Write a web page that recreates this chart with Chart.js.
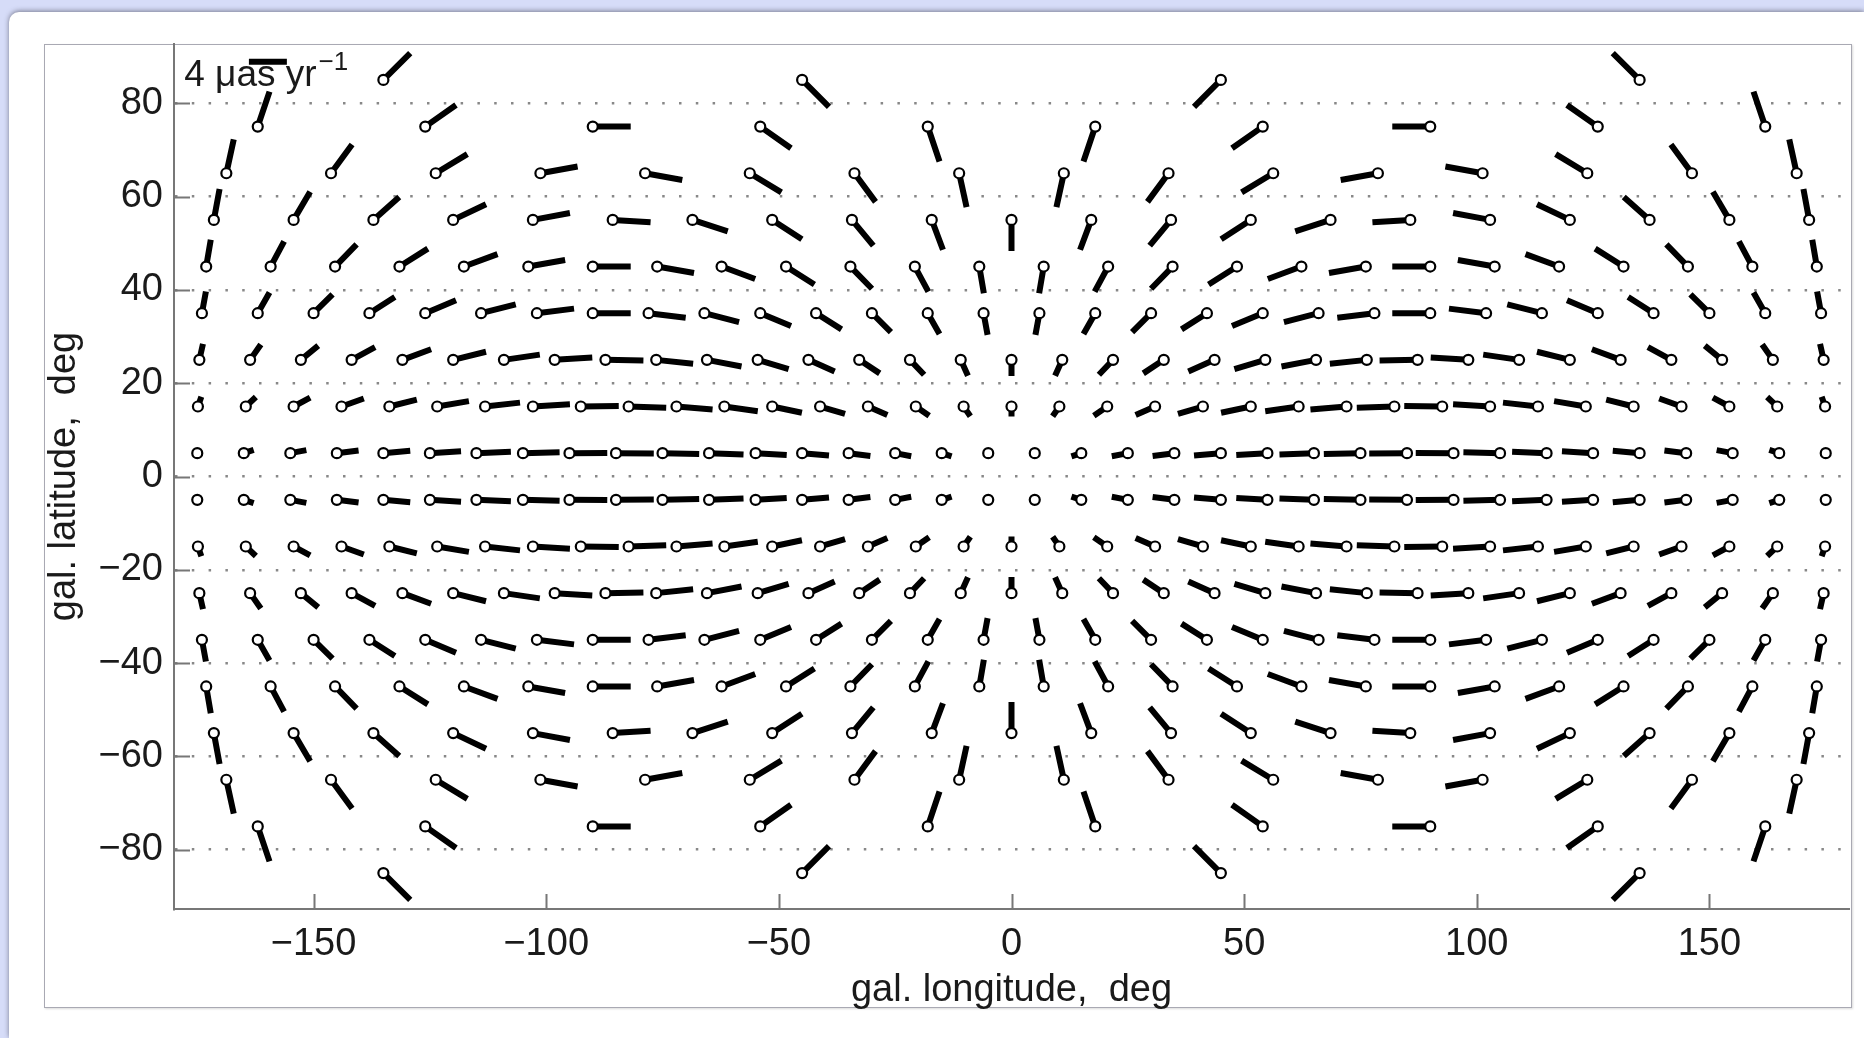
<!DOCTYPE html>
<html>
<head>
<meta charset="utf-8">
<script src="https://cdn.jsdelivr.net/npm/chart.js@4.4.1/dist/chart.umd.min.js"></script>
<style>
  html, body { margin: 0; padding: 0; width: 1864px; height: 1038px; overflow: hidden; background: #d6dcf8; }
  #panel { position: absolute; left: 9px; top: 12px; width: 1855px; height: 1026px; background: #fff;
           border-top-left-radius: 10px; box-shadow: 0 -1px 5px rgba(60, 60, 75, 0.6); }
  #frame { position: absolute; left: 44px; top: 44px; width: 1806px; height: 962px; background: #fff;
           border: 1.5px solid #a9a9b3; box-shadow: 1px 1px 2px rgba(0, 0, 0, 0.15); }
  #c { position: absolute; left: 0; top: 0; }
</style>
</head>
<body>
<div id="panel"></div>
<div id="frame"></div>
<canvas id="c" width="1864" height="1038"></canvas>
<script>
// Proper-motion field on a grid of galactic (l, b) cells, values in μas/yr.
// Each latitude band: longitudes of the cell centres, μl·cos b, and μb (north / south band).

const X_TICKS = [-150, -100, -50, 0, 50, 100, 150];
const Y_TICKS = [-80, -60, -40, -20, 0, 20, 40, 60, 80];
const KEY_VALUE = 4; // μas/yr, reference arrow

const LON_85 = [-135, -45, 45, 135];
const MUL_85 = [2.83, 2.83, -2.83, -2.83];
const MUB_N85 = [2.82, -2.82, -2.82, 2.82];
const MUB_S85 = [-2.82, 2.82, 2.82, -2.82];

const LON_75 = [-162, -126, -90, -54, -18, 18, 54, 90, 126, 162];
const MUL_75 = [1.24, 3.24, 4.00, 3.24, 1.24, -1.24, -3.24, -4.00, -3.24, -1.24];
const MUB_N75 = [3.67, 2.27, 0, -2.27, -3.67, -3.67, -2.27, 0, 2.27, 3.67];
const MUB_S75 = [-3.67, -2.27, 0, 2.27, 3.67, 3.67, 2.27, 0, -2.27, -3.67];

const LON_65 = [-168.75, -146.25, -123.75, -101.25, -78.75, -56.25, -33.75, -11.25,
                11.25, 33.75, 56.25, 78.75, 101.25, 123.75, 146.25, 168.75];
const MUL_65 = [0.78, 2.22, 3.33, 3.92, 3.92, 3.33, 2.22, 0.78,
                -0.78, -2.22, -3.33, -3.92, -3.92, -3.33, -2.22, -0.78];
const MUB_N65 = [3.56, 3.01, 2.01, 0.71, -0.71, -2.01, -3.01, -3.56,
                 -3.56, -3.01, -2.01, -0.71, 0.71, 2.01, 3.01, 3.56];
const MUB_S65 = [-3.56, -3.01, -2.01, -0.71, 0.71, 2.01, 3.01, 3.56,
                 3.56, 3.01, 2.01, 0.71, -0.71, -2.01, -3.01, -3.56];

const LON_55 = [-171.43, -154.29, -137.14, -120, -102.86, -85.71, -68.57, -51.43, -34.29, -17.14, 0,
                17.14, 34.29, 51.43, 68.57, 85.71, 102.86, 120, 137.14, 154.29, 171.43];
const MUL_55 = [0.60, 1.74, 2.72, 3.46, 3.90, 3.99, 3.72, 3.13, 2.25, 1.18, 0,
                -1.18, -2.25, -3.13, -3.72, -3.99, -3.90, -3.46, -2.72, -1.74, -0.60];
const MUB_N55 = [3.24, 2.95, 2.40, 1.64, 0.73, -0.25, -1.20, -2.04, -2.71, -3.13, -3.28,
                 -3.13, -2.71, -2.04, -1.20, -0.25, 0.73, 1.64, 2.40, 2.95, 3.24];
const MUB_S55 = [-3.24, -2.95, -2.40, -1.64, -0.73, 0.25, 1.20, 2.04, 2.71, 3.13, 3.28,
                 3.13, 2.71, 2.04, 1.20, 0.25, -0.73, -1.64, -2.40, -2.95, -3.24];

const LON_45 = [-173.08, -159.23, -145.38, -131.54, -117.69, -103.85, -90, -76.15, -62.31, -48.46, -34.62, -20.77, -6.92,
                6.92, 20.77, 34.62, 48.46, 62.31, 76.15, 90, 103.85, 117.69, 131.54, 145.38, 159.23, 173.08];
const MUL_45 = [0.48, 1.42, 2.27, 2.99, 3.54, 3.88, 4.00, 3.88, 3.54, 2.99, 2.27, 1.42, 0.48,
                -0.48, -1.42, -2.27, -2.99, -3.54, -3.88, -4.00, -3.88, -3.54, -2.99, -2.27, -1.42, -0.48];
const MUB_N45 = [2.81, 2.64, 2.33, 1.88, 1.31, 0.68, 0, -0.68, -1.31, -1.88, -2.33, -2.64, -2.81,
                 -2.81, -2.64, -2.33, -1.88, -1.31, -0.68, 0, 0.68, 1.31, 1.88, 2.33, 2.64, 2.81];
const MUB_S45 = [-2.81, -2.64, -2.33, -1.88, -1.31, -0.68, 0, 0.68, 1.31, 1.88, 2.33, 2.64, 2.81,
                 2.81, 2.64, 2.33, 1.88, 1.31, 0.68, 0, -0.68, -1.31, -1.88, -2.33, -2.64, -2.81];

const LON_35 = [-174, -162, -150, -138, -126, -114, -102, -90, -78, -66, -54, -42, -30, -18, -6,
                6, 18, 30, 42, 54, 66, 78, 90, 102, 114, 126, 138, 150, 162, 174];
const MUL_35 = [0.42, 1.24, 2.00, 2.68, 3.24, 3.65, 3.91, 4.00, 3.91, 3.65, 3.24, 2.68, 2.00, 1.24, 0.42,
                -0.42, -1.24, -2.00, -2.68, -3.24, -3.65, -3.91, -4.00, -3.91, -3.65, -3.24, -2.68, -2.00, -1.24, -0.42];
const MUB_N35 = [2.28, 2.18, 1.99, 1.70, 1.35, 0.93, 0.48, 0, -0.48, -0.93, -1.35, -1.70, -1.99, -2.18, -2.28,
                 -2.28, -2.18, -1.99, -1.70, -1.35, -0.93, -0.48, 0, 0.48, 0.93, 1.35, 1.70, 1.99, 2.18, 2.28];
const MUB_S35 = [-2.28, -2.18, -1.99, -1.70, -1.35, -0.93, -0.48, 0, 0.48, 0.93, 1.35, 1.70, 1.99, 2.18, 2.28,
                 2.28, 2.18, 1.99, 1.70, 1.35, 0.93, 0.48, 0, -0.48, -0.93, -1.35, -1.70, -1.99, -2.18, -2.28];

const LON_25 = [-174.55, -163.64, -152.73, -141.82, -130.91, -120, -109.09, -98.18, -87.27, -76.36, -65.45,
                -54.55, -43.64, -32.73, -21.82, -10.91, 0, 10.91, 21.82, 32.73, 43.64, 54.55,
                65.45, 76.36, 87.27, 98.18, 109.09, 120, 130.91, 141.82, 152.73, 163.64, 174.55];
const MUL_25 = [0.38, 1.13, 1.83, 2.47, 3.02, 3.46, 3.78, 3.96, 4.00, 3.89, 3.64,
                3.26, 2.76, 2.16, 1.49, 0.76, 0, -0.76, -1.49, -2.16, -2.76, -3.26,
                -3.64, -3.89, -4.00, -3.96, -3.78, -3.46, -3.02, -2.47, -1.83, -1.13, -0.38];
const MUB_N25 = [1.68, 1.62, 1.50, 1.33, 1.11, 0.85, 0.55, 0.24, -0.08, -0.40, -0.70,
                 -0.98, -1.22, -1.42, -1.57, -1.66, -1.69, -1.66, -1.57, -1.42, -1.22, -0.98,
                 -0.70, -0.40, -0.08, 0.24, 0.55, 0.85, 1.11, 1.33, 1.50, 1.62, 1.68];
const MUB_S25 = [-1.68, -1.62, -1.50, -1.33, -1.11, -0.85, -0.55, -0.24, 0.08, 0.40, 0.70,
                 0.98, 1.22, 1.42, 1.57, 1.66, 1.69, 1.66, 1.57, 1.42, 1.22, 0.98,
                 0.70, 0.40, 0.08, -0.24, -0.55, -0.85, -1.11, -1.33, -1.50, -1.62, -1.68];

const LON_15 = [-174.86, -164.57, -154.29, -144, -133.71, -123.43, -113.14, -102.86, -92.57, -82.29, -72, -61.71,
                -51.43, -41.14, -30.86, -20.57, -10.29, 0, 10.29, 20.57, 30.86, 41.14, 51.43, 61.71,
                72, 82.29, 92.57, 102.86, 113.14, 123.43, 133.71, 144, 154.29, 164.57, 174.86];
const MUL_15 = [0.36, 1.06, 1.74, 2.35, 2.89, 3.34, 3.68, 3.90, 4.00, 3.96, 3.80, 3.52,
                3.13, 2.63, 2.05, 1.41, 0.71, 0, -0.71, -1.41, -2.05, -2.63, -3.13, -3.52,
                -3.80, -3.96, -4.00, -3.90, -3.68, -3.34, -2.89, -2.35, -1.74, -1.06, -0.36];
const MUB_N15 = [1.03, 1.00, 0.93, 0.84, 0.72, 0.57, 0.41, 0.23, 0.05, -0.14, -0.32, -0.49,
                 -0.65, -0.78, -0.89, -0.97, -1.02, -1.04, -1.02, -0.97, -0.89, -0.78, -0.65, -0.49,
                 -0.32, -0.14, 0.05, 0.23, 0.41, 0.57, 0.72, 0.84, 0.93, 1.00, 1.03];
const MUB_S15 = [-1.03, -1.00, -0.93, -0.84, -0.72, -0.57, -0.41, -0.23, -0.05, 0.14, 0.32, 0.49,
                 0.65, 0.78, 0.89, 0.97, 1.02, 1.04, 1.02, 0.97, 0.89, 0.78, 0.65, 0.49,
                 0.32, 0.14, -0.05, -0.23, -0.41, -0.57, -0.72, -0.84, -0.93, -1.00, -1.03];

const LON_05 = [-175, -165, -155, -145, -135, -125, -115, -105, -95, -85, -75, -65, -55, -45, -35, -25, -15, -5,
                5, 15, 25, 35, 45, 55, 65, 75, 85, 95, 105, 115, 125, 135, 145, 155, 165, 175];
const MUL_05 = [0.35, 1.04, 1.69, 2.29, 2.83, 3.28, 3.63, 3.86, 3.98, 3.98, 3.86, 3.63, 3.28, 2.83, 2.29, 1.69, 1.04, 0.35,
                -0.35, -1.04, -1.69, -2.29, -2.83, -3.28, -3.63, -3.86, -3.98, -3.98, -3.86, -3.63, -3.28, -2.83, -2.29, -1.69, -1.04, -0.35];
const MUB_N05 = [0.35, 0.34, 0.32, 0.29, 0.25, 0.20, 0.15, 0.09, 0.03, -0.03, -0.09, -0.15, -0.20, -0.25, -0.29, -0.32, -0.34, -0.35,
                 -0.35, -0.34, -0.32, -0.29, -0.25, -0.20, -0.15, -0.09, -0.03, 0.03, 0.09, 0.15, 0.20, 0.25, 0.29, 0.32, 0.34, 0.35];
const MUB_S05 = [-0.35, -0.34, -0.32, -0.29, -0.25, -0.20, -0.15, -0.09, -0.03, 0.03, 0.09, 0.15, 0.20, 0.25, 0.29, 0.32, 0.34, 0.35,
                 0.35, 0.34, 0.32, 0.29, 0.25, 0.20, 0.15, 0.09, 0.03, -0.03, -0.09, -0.15, -0.20, -0.25, -0.29, -0.32, -0.34, -0.35];

// Latitude bands, north to south: [b, longitudes, μl·cos b, μb]
const BANDS = [
  [85, LON_85, MUL_85, MUB_N85], [75, LON_75, MUL_75, MUB_N75], [65, LON_65, MUL_65, MUB_N65],
  [55, LON_55, MUL_55, MUB_N55], [45, LON_45, MUL_45, MUB_N45], [35, LON_35, MUL_35, MUB_N35],
  [25, LON_25, MUL_25, MUB_N25], [15, LON_15, MUL_15, MUB_N15], [5, LON_05, MUL_05, MUB_N05],
  [-5, LON_05, MUL_05, MUB_S05], [-15, LON_15, MUL_15, MUB_S15], [-25, LON_25, MUL_25, MUB_S25],
  [-35, LON_35, MUL_35, MUB_S35], [-45, LON_45, MUL_45, MUB_S45], [-55, LON_55, MUL_55, MUB_S55],
  [-65, LON_65, MUL_65, MUB_S65], [-75, LON_75, MUL_75, MUB_S75], [-85, LON_85, MUL_85, MUB_S85]
];

// Arrow length on the map: degrees per μas/yr
const ARROW_SCALE = 2.04;

const anchors = [];
const shafts = [];
for (const [b, lons, mul, mub] of BANDS) {
  lons.forEach((l, i) => {
    anchors.push({ x: l, y: b });
    shafts.push({ x: l, y: b });
    shafts.push({ x: l + ARROW_SCALE * mul[i], y: b + ARROW_SCALE * mub[i] });
    shafts.push({ x: l, y: null });
  });
}

// Reference arrow in the upper-left corner
const KEY_L = -163.9, KEY_B = 88.9;
const keyBar = [{ x: KEY_L, y: KEY_B }, { x: KEY_L + ARROW_SCALE * KEY_VALUE, y: KEY_B }];

const FONT = '"Liberation Sans", Arial, Helvetica, sans-serif';
const INK = '#1a1a1a';
const AXIS = '#777777';
const fmt = v => (v < 0 ? '\u2212' + Math.abs(v) : String(v));

const decor = {
  id: 'decor',
  afterDraw(chart) {
    const { ctx, chartArea: a, scales: { x, y } } = chart;
    ctx.save();
    ctx.strokeStyle = AXIS;
    ctx.lineWidth = 2;
    ctx.beginPath();
    for (const v of Y_TICKS) {
      const py = Math.round(y.getPixelForValue(v)) + 0.5;
      ctx.moveTo(a.left, py); ctx.lineTo(a.left + 16, py);
    }
    for (const v of X_TICKS) {
      const px = Math.round(x.getPixelForValue(v)) + 0.5;
      ctx.moveTo(px, a.bottom); ctx.lineTo(px, a.bottom - 15);
    }
    ctx.stroke();

    // key label: "4 μas yr⁻¹"
    const tx = x.getPixelForValue(-177.8);
    const ty = y.getPixelForValue(83.6);
    ctx.fillStyle = INK;
    ctx.textBaseline = 'alphabetic';
    ctx.textAlign = 'left';
    ctx.font = '37px ' + FONT;
    const main = KEY_VALUE + ' \u03bcas yr';
    ctx.fillText(main, tx, ty);
    const w = ctx.measureText(main).width;
    ctx.font = '26px ' + FONT;
    ctx.fillText('\u22121', tx + w + 2, ty - 16);
    ctx.restore();
  }
};

new Chart(document.getElementById('c'), {
  type: 'scatter',
  data: {
    datasets: [
      {
        type: 'line', data: shafts, borderColor: '#000', borderWidth: 6, borderCapStyle: 'butt',
        pointRadius: 0, spanGaps: false, tension: 0, fill: false, order: 2
      },
      {
        type: 'line', data: keyBar, borderColor: '#000', borderWidth: 6, borderCapStyle: 'butt',
        pointRadius: 0, tension: 0, fill: false, order: 2
      },
      {
        type: 'scatter', data: anchors, pointRadius: 5, pointBorderWidth: 2.2,
        pointBackgroundColor: '#fff', pointBorderColor: '#000', order: 0
      }
    ]
  },
  options: {
    responsive: false,
    animation: false,
    devicePixelRatio: 1,
    events: [],
    layout: { padding: { top: 44, right: 15, bottom: 0, left: 0 } },
    plugins: { legend: { display: false }, tooltip: { enabled: false } },
    scales: {
      x: {
        type: 'linear', min: -180, max: 180,
        afterBuildTicks: s => { s.ticks = X_TICKS.map(v => ({ value: v })); },
        afterFit: s => { s.height = 129; },
        grid: { display: false, drawTicks: false },
        border: { display: true, color: AXIS, width: 2 },
        ticks: { font: { family: FONT, size: 38 }, color: INK, padding: 13, maxRotation: 0, autoSkip: false, callback: fmt },
        title: { display: true, text: 'gal. longitude,  deg', font: { family: FONT, size: 38 }, color: INK,
                 padding: { top: 0, bottom: 24.5 } }
      },
      y: {
        type: 'linear', min: -92.7, max: 92.7,
        afterBuildTicks: s => { s.ticks = Y_TICKS.map(v => ({ value: v })); },
        afterFit: s => { s.width = 174; },
        grid: { color: '#888888', lineWidth: 2.5, drawTicks: false },
        border: { display: true, color: AXIS, width: 2, dash: [2.5, 14.3] },
        ticks: { font: { family: FONT, size: 38 }, color: INK, padding: 11, autoSkip: false, callback: fmt },
        title: { display: true, text: 'gal. latitude,  deg', font: { family: FONT, size: 38 }, color: INK,
                 padding: { top: 42, bottom: 0 } }
      }
    }
  },
  plugins: [decor]
});
</script>
</body>
</html>
